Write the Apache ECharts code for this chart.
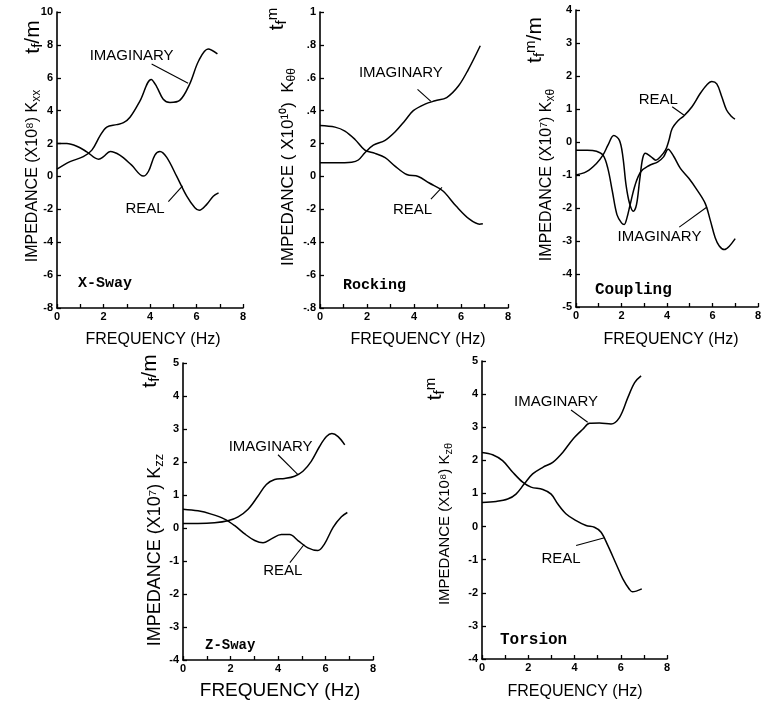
<!DOCTYPE html>
<html><head><meta charset="utf-8">
<script src="https://cdn.jsdelivr.net/npm/echarts@6/dist/echarts.min.js"></script>
<style>html,body{margin:0;padding:0;background:#fff}#c{width:764px;height:707px}</style>
</head><body><div id="c"></div>
<script>
// ---------- DATA (frequency Hz, impedance value) ----------
// X-Sway  Kxx (x10^8 tf/m)
const xswayImag = [[0,0.44],[0.56,0.9],[1.13,1.2],[1.5,1.6],[1.86,2.5],[2.14,3.0],[2.57,3.15],[2.86,3.27],[3.14,3.6],[3.57,4.6],[4.05,5.9],[4.29,5.45],[4.57,4.7],[4.86,4.5],[5.29,4.64],[5.7,5.6],[6.1,7.05],[6.5,7.75],[6.9,7.45]];
const xswayReal = [[0,2.0],[0.42,2.0],[0.85,1.84],[1.28,1.5],[1.79,1.05],[2.0,1.2],[2.29,1.52],[2.7,1.3],[3.2,0.7],[3.71,0.02],[3.93,0.3],[4.21,1.3],[4.43,1.52],[4.72,1.16],[5.15,0],[5.58,-1.2],[5.93,-1.9],[6.12,-2.06],[6.44,-1.7],[6.72,-1.2],[6.95,-1.0]];
// Rocking  Kθθ (x10^10 tf·m)
const rockImag = [[0,0.083],[0.64,0.083],[1.35,0.087],[1.63,0.10],[1.91,0.144],[2.27,0.19],[2.77,0.22],[3.19,0.27],[3.62,0.34],[3.97,0.40],[4.47,0.44],[4.9,0.46],[5.39,0.48],[5.89,0.55],[6.31,0.65],[6.82,0.795]];
const rockReal = [[0,0.31],[0.64,0.30],[1.06,0.276],[1.49,0.225],[1.91,0.16],[2.34,0.14],[2.77,0.114],[3.19,0.063],[3.69,0.012],[4.18,0.0],[4.65,-0.04],[5.22,-0.087],[5.79,-0.18],[6.36,-0.26],[6.79,-0.29],[6.93,-0.288]];
// Coupling  Kxθ (x10^7 tf·m/m)
const coupReal = [[0,-1.0],[0.46,-0.9],[0.9,-0.65],[1.19,-0.39],[1.41,-0.09],[1.66,0.2],[1.91,0.05],[2.06,-0.44],[2.2,-1.3],[2.35,-1.85],[2.52,-2.1],[2.66,-1.9],[2.8,-1.15],[2.93,-0.5],[3.05,-0.34],[3.29,-0.44],[3.51,-0.55],[3.72,-0.44],[3.94,-0.24],[4.09,0.06],[4.23,0.41],[4.52,0.67],[4.74,0.79],[5.1,1.07],[5.46,1.47],[5.75,1.73],[5.97,1.83],[6.19,1.76],[6.41,1.37],[6.62,0.97],[6.84,0.77],[6.99,0.69]];
const coupImag = [[0,-0.25],[0.5,-0.25],[0.9,-0.28],[1.19,-0.4],[1.4,-0.8],[1.6,-1.5],[1.8,-2.2],[2.0,-2.45],[2.12,-2.5],[2.24,-2.3],[2.38,-1.9],[2.6,-1.3],[2.85,-0.9],[3.2,-0.72],[3.6,-0.6],[3.85,-0.45],[4.05,-0.22],[4.3,-0.44],[4.59,-0.8],[4.96,-1.1],[5.32,-1.45],[5.68,-1.86],[5.9,-2.36],[6.12,-2.9],[6.3,-3.15],[6.52,-3.26],[6.75,-3.15],[7.0,-2.93]];
// Z-Sway  Kzz (x10^7 tf/m)
const zswayImag = [[0,0.14],[0.63,0.14],[1.33,0.16],[1.89,0.22],[2.32,0.34],[2.74,0.57],[3.16,0.97],[3.51,1.32],[3.86,1.47],[4.28,1.5],[4.7,1.57],[5.05,1.72],[5.4,2.02],[5.75,2.47],[6.04,2.77],[6.27,2.86],[6.53,2.77],[6.81,2.52]];
const zswayReal = [[0,0.57],[0.63,0.52],[1.19,0.42],[1.75,0.27],[2.18,0.07],[2.6,-0.18],[3.02,-0.38],[3.37,-0.45],[3.72,-0.33],[4.14,-0.2],[4.49,-0.2],[4.84,-0.38],[5.26,-0.6],[5.68,-0.68],[5.96,-0.48],[6.32,0.02],[6.67,0.34],[6.92,0.47]];
// Torsion  Kzθ (x10^8 tf·m)
const torsImag = [[0,0.73],[0.61,0.76],[1.11,0.83],[1.47,0.98],[1.83,1.29],[2.19,1.59],[2.63,1.79],[3.06,1.94],[3.49,2.24],[3.93,2.64],[4.36,2.94],[4.65,3.12],[5.08,3.13],[5.58,3.1],[5.95,3.3],[6.31,3.9],[6.6,4.35],[6.88,4.55]];
const torsReal = [[0,2.24],[0.46,2.17],[0.89,1.99],[1.33,1.64],[1.76,1.34],[2.12,1.19],[2.63,1.12],[2.99,0.98],[3.28,0.68],[3.64,0.38],[4.07,0.18],[4.5,0.03],[4.86,-0.02],[5.15,-0.17],[5.44,-0.57],[5.8,-1.13],[6.09,-1.58],[6.38,-1.9],[6.5,-1.97],[6.91,-1.88]];

// tick labels
const freqTicks = ['0','2','4','6','8'];
const rockingTickLabels = ['-.8','-6','-.4','-2','0','2','.4','.6','.8','1'];

// ---------- LAYOUT ----------
const FONT = "'Liberation Sans', Arial, sans-serif";
const MONO = "'Liberation Mono', 'DejaVu Sans Mono', monospace";
const panels = [
  {grid:{left:57,top:12,width:186,height:296}, y:{min:-8,max:10,interval:2}, imag:xswayImag, real:xswayReal,
   notes:[{t:'IMAGINARY',at:[3.21,7.35],line:[[4.07,6.84],[5.64,5.67]]},{t:'REAL',at:[3.79,-2.0],line:[[4.79,-1.53],[5.4,-0.57]]}]},
  {grid:{left:320,top:12,width:188,height:296}, y:{min:-0.8,max:1,interval:0.2,labels:rockingTickLabels}, imag:rockImag, real:rockReal,
   notes:[{t:'IMAGINARY',at:[3.44,0.628],line:[[4.15,0.53],[4.72,0.456]]},{t:'REAL',at:[3.94,-0.203],line:[[4.72,-0.138],[5.19,-0.067]]}]},
  {grid:{left:576,top:10,width:184,height:297}, y:{min:-5,max:4,interval:1}, imag:coupImag, real:coupReal,
   notes:[{t:'REAL',at:[3.62,1.29],line:[[4.23,1.07],[4.74,0.82]]},{t:'IMAGINARY',at:[3.67,-2.88],line:[[4.54,-2.58],[5.76,-1.97]]}]},
  {grid:{left:183,top:363,width:190,height:297}, y:{min:-4,max:5,interval:1}, imag:zswayImag, real:zswayReal,
   notes:[{t:'IMAGINARY',at:[3.69,2.47],line:[[4.0,2.22],[4.84,1.62]]},{t:'REAL',at:[4.2,-1.3],line:[[4.5,-1.05],[5.1,-0.5]]}]},
  {grid:{left:482,top:361,width:185,height:298}, y:{min:-4,max:5,interval:1}, imag:torsImag, real:torsReal,
   notes:[{t:'IMAGINARY',at:[3.2,3.78],line:[[3.85,3.52],[4.57,3.15]]},{t:'REAL',at:[3.42,-0.97],line:[[4.07,-0.57],[5.3,-0.34]]}]}
];

const grids=[], xAxes=[], yAxes=[], series=[];
panels.forEach((p,i)=>{
  grids.push(Object.assign({containLabel:false}, p.grid));
  xAxes.push({type:'value', gridIndex:i, min:0, max:8, interval:1,
    axisLine:{onZero:false, lineStyle:{color:'#000', width:1.6}},
    axisTick:{inside:true, length:4, lineStyle:{color:'#000', width:1.3}},
    axisLabel:{margin:3, color:'#000', fontFamily:FONT, fontSize:11, fontWeight:'bold',
      formatter:v=> (Math.round(v)%2===0 ? freqTicks[Math.round(v)/2] : '')},
    splitLine:{show:false}});
  yAxes.push({type:'value', gridIndex:i, min:p.y.min, max:p.y.max, interval:p.y.interval,
    axisLine:{onZero:false, lineStyle:{color:'#000', width:1.6}},
    axisTick:{inside:true, length:4, lineStyle:{color:'#000', width:1.3}},
    axisLabel:{margin:4, color:'#000', fontFamily:FONT, fontSize:11, fontWeight:'bold',
      formatter: p.y.labels ? (v=>p.y.labels[Math.round((v-p.y.min)/p.y.interval)]) : (v=>String(v))},
    splitLine:{show:false}});
  const base = {type:'line', xAxisIndex:i, yAxisIndex:i, smooth:0.35, showSymbol:false, symbol:'none',
    lineStyle:{color:'#000', width:1.5}, silent:true, animation:false, clip:false};
  series.push(Object.assign({}, base, {name:'IMAGINARY', data:p.imag,
    markLine:{silent:true, symbol:['none','none'], animation:false, label:{show:false},
      lineStyle:{color:'#000', width:1.1, type:'solid'},
      data:p.notes.map(n=>[{coord:n.line[0]},{coord:n.line[1]}])},
    markPoint:{silent:true, animation:false, symbol:'circle', symbolSize:1, itemStyle:{color:'rgba(0,0,0,0)'},
      label:{show:true, position:'inside', color:'#000', fontFamily:FONT, fontSize:15, formatter:d=>d.name},
      data:p.notes.map(n=>({name:n.t, coord:n.at}))}
  }));
  series.push(Object.assign({}, base, {name:'REAL', data:p.real}));
});

// ---------- TEXT ----------
function rot(x,y,rich,parts,size){
  return {type:'text', x:x, y:y, rotation:Math.PI/2, silent:true,
    style:{text:parts, align:'center', verticalAlign:'middle', fontFamily:FONT, fontSize:size, fill:'#000', rich:rich}};
}
function richFor(size){
  return {a:{fontSize:size, fontFamily:FONT, fill:'#000', color:'#000'},
          s:{fontSize:Math.round(size*0.72), fontFamily:FONT, fill:'#000', color:'#000', padding:[Math.round(size*0.45),0,0,0]},
          u:{fontSize:Math.round(size*0.72), fontFamily:FONT, fill:'#000', color:'#000', padding:[0,0,Math.round(size*0.45),0]}};
}
const yTitles = [
  [33,176,16,'{a|IMPEDANCE (X10⁸) K}{s|xx}'],
  [288,167,17,'{a|IMPEDANCE ( X10¹⁰)  K}{s|θθ}'],
  [547,175,16,'{a|IMPEDANCE (X10⁷) K}{s|xθ}'],
  [155,550,18,'{a|IMPEDANCE (X10⁷) K}{s|zz}'],
  [445,524,15,'{a|IMPEDANCE (X10⁸) K}{s|zθ}']
];
const units = [
  [33,37,21,'{a|t}{s|f}{a|/m}'],
  [277,19,21,'{a|t}{s|f}{u|m}'],
  [535,40,21,'{a|t}{s|f}{u|m}{a|/m}'],
  [150,371,21,'{a|t}{s|f}{a|/m}'],
  [435,389,21,'{a|t}{s|f}{u|m}']
];
const cases = [['X-Sway',78,283,15],['Rocking',343,285,15],['Coupling',595,290,16],['Z-Sway',205,645,14],['Torsion',500,640,16]];
const freqTitles = [[153,340,16],[418,340,16],[671,340,16],[280,691,19],[575,692,16]];

const graphic = [];
yTitles.forEach(t=>graphic.push(rot(t[0],t[1],richFor(t[2]),t[3],t[2])));
units.forEach(t=>graphic.push(rot(t[0],t[1],richFor(t[2]),t[3],t[2])));
cases.forEach(c=>graphic.push({type:'text', x:c[1], y:c[2], silent:true,
  style:{text:c[0], align:'left', verticalAlign:'middle', fontFamily:MONO, fontSize:c[3], fontWeight:'bold', fill:'#000'}}));
freqTitles.forEach(f=>graphic.push({type:'text', x:f[0], y:f[1], silent:true,
  style:{text:'FREQUENCY (Hz)', align:'center', verticalAlign:'middle', fontFamily:FONT, fontSize:f[2], fill:'#000'}}));

const chart = echarts.init(document.getElementById('c'), null, {renderer:'canvas'});
chart.setOption({animation:false, backgroundColor:'#fff', grid:grids, xAxis:xAxes, yAxis:yAxes, series:series, graphic:graphic});
</script></body></html>
